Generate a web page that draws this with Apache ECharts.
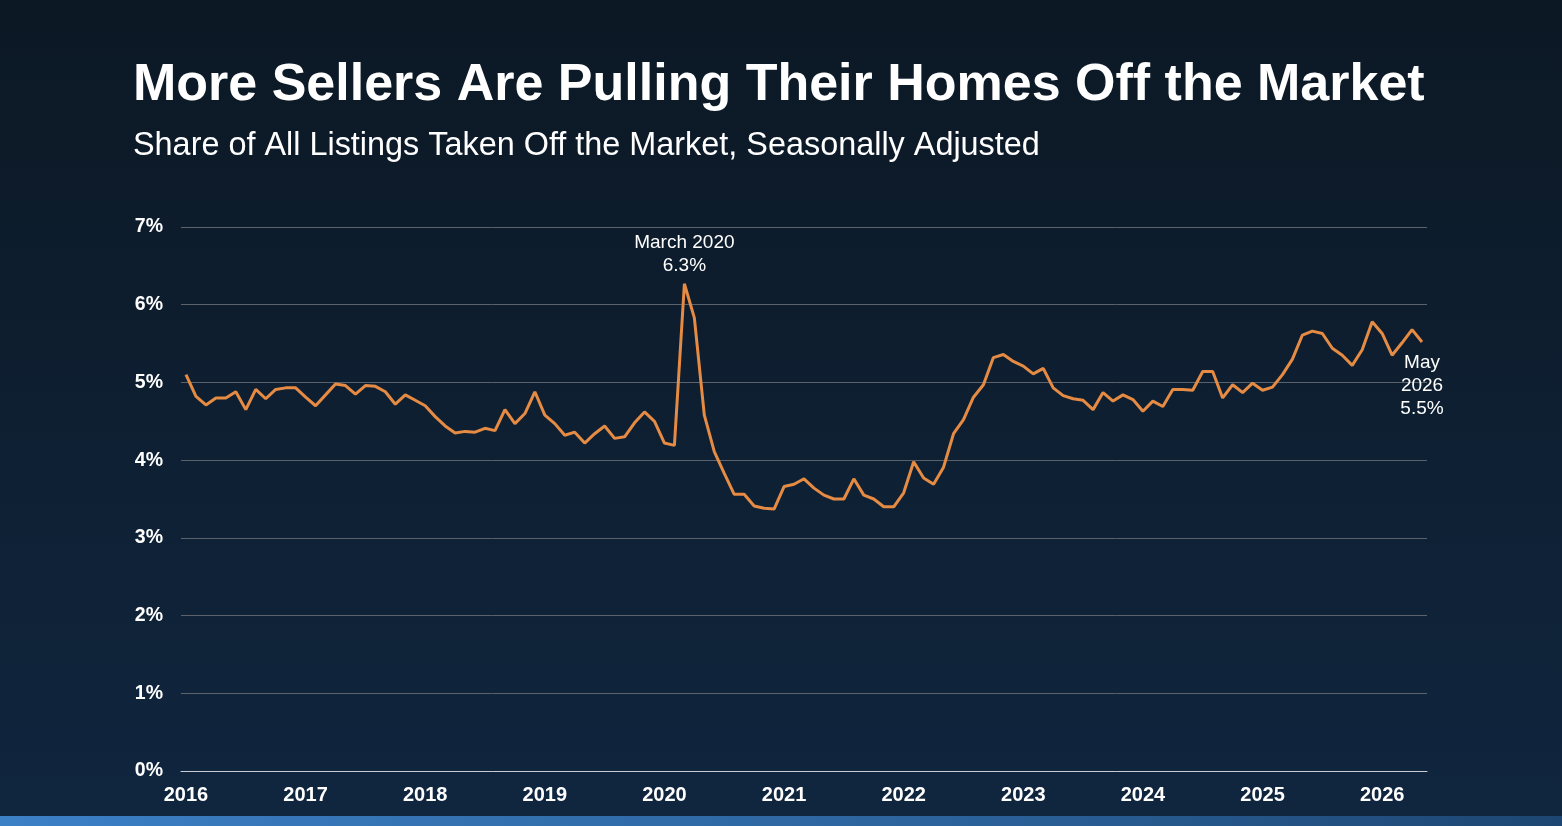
<!DOCTYPE html>
<html>
<head>
<meta charset="utf-8">
<script src="https://cdn.jsdelivr.net/npm/echarts@6/dist/echarts.min.js"></script>
<style>
  html, body { margin: 0; padding: 0; }
  #chart { width: 1562px; height: 826px; }
</style>
</head>
<body>
<div id="chart"></div>
<script>
var years = ['2016', '2017', '2018', '2019', '2020', '2021', '2022', '2023', '2024', '2025', '2026'];

// share of listings delisted, % (seasonally adjusted), one value per month
var v2016 = [5.10, 4.82, 4.71, 4.80, 4.80, 4.88, 4.65, 4.91, 4.79, 4.91, 4.93, 4.93];
var v2017 = [4.81, 4.70, 4.84, 4.98, 4.96, 4.85, 4.96, 4.95, 4.88, 4.72, 4.84, 4.77];
var v2018 = [4.70, 4.56, 4.44, 4.35, 4.37, 4.36, 4.41, 4.38, 4.65, 4.47, 4.60, 4.88];
var v2019 = [4.58, 4.47, 4.32, 4.36, 4.22, 4.34, 4.44, 4.28, 4.30, 4.48, 4.62, 4.50];
var v2020 = [4.22, 4.19, 6.27, 5.83, 4.58, 4.11, 3.83, 3.56, 3.56, 3.41, 3.38, 3.37];
var v2021 = [3.66, 3.69, 3.76, 3.64, 3.55, 3.50, 3.50, 3.76, 3.55, 3.50, 3.40, 3.40];
var v2022 = [3.58, 3.98, 3.77, 3.69, 3.91, 4.34, 4.52, 4.81, 4.97, 5.32, 5.36, 5.27];
var v2023 = [5.21, 5.11, 5.18, 4.93, 4.83, 4.79, 4.77, 4.65, 4.87, 4.76, 4.84, 4.78];
var v2024 = [4.63, 4.76, 4.69, 4.91, 4.91, 4.90, 5.14, 5.14, 4.80, 4.97, 4.87, 4.99];
var v2025 = [4.90, 4.94, 5.10, 5.30, 5.61, 5.66, 5.63, 5.44, 5.35, 5.22, 5.42, 5.78];
var v2026 = [5.63, 5.35, 5.51, 5.68, 5.52];

var yTicks = [0, 1, 2, 3, 4, 5, 6, 7];

var values = [].concat(v2016, v2017, v2018, v2019, v2020, v2021, v2022, v2023, v2024, v2025, v2026);
var months = values.map(function (_, i) {
  var y = years[Math.floor(i / 12)];
  var m = (i % 12) + 1;
  return y + '-' + (m < 10 ? '0' + m : m);
});

var notes = {
  '2020-03': { text: 'March 2020\n6.3%', position: 'top', distance: 6 },
  '2026-05': { text: 'May\n2026\n5.5%', position: 'bottom', distance: 9 }
};

var font = 'Liberation Sans, Arial, Helvetica, sans-serif';

var seriesData = values.map(function (v, i) {
  var n = notes[months[i]];
  if (!n) return v;
  return {
    value: v,
    label: {
      show: true,
      position: n.position,
      distance: n.distance,
      formatter: n.text,
      color: '#ffffff',
      fontSize: 19,
      lineHeight: 23,
      align: 'center',
      fontFamily: font
    }
  };
});

var myChart = echarts.init(document.getElementById('chart'));
var option = {
  backgroundColor: {
    type: 'linear', x: 0, y: 0, x2: 0, y2: 1,
    colorStops: [
      { offset: 0, color: '#0c1824' },
      { offset: 1, color: '#10263f' }
    ]
  },
  title: [
    {
      text: 'More Sellers Are Pulling Their Homes Off the Market',
      left: 128,
      top: 55,
      textStyle: { color: '#ffffff', fontSize: 52, fontWeight: 'bold', fontFamily: font }
    },
    {
      text: 'Share of All Listings Taken Off the Market, Seasonally Adjusted',
      left: 128,
      top: 125,
      textStyle: { color: '#ffffff', fontSize: 32.4, fontWeight: 'normal', fontFamily: font }
    }
  ],
  graphic: [
    {
      type: 'rect',
      left: 0,
      bottom: 0,
      shape: { width: 1562, height: 10 },
      style: {
        fill: {
          type: 'linear', x: 0, y: 0, x2: 1, y2: 0,
          colorStops: [
            { offset: 0, color: '#3c80c6' },
            { offset: 0.6, color: '#2c639c' },
            { offset: 1, color: '#1d4672' }
          ]
        }
      },
      silent: true
    }
  ],
  grid: { left: 181, right: 135, top: 227, bottom: 55 },
  xAxis: {
    type: 'category',
    data: months,
    boundaryGap: true,
    axisTick: { show: false },
    axisLine: { show: true, lineStyle: { color: '#c9cdd1', width: 1 } },
    axisLabel: {
      interval: function (idx) { return idx % 12 === 0; },
      formatter: function (v) { return v.slice(0, 4); },
      color: '#ffffff',
      fontSize: 20,
      fontWeight: 'bold',
      fontFamily: font,
      margin: 14
    },
    splitLine: { show: false }
  },
  yAxis: {
    type: 'value',
    min: yTicks[0],
    max: yTicks[yTicks.length - 1],
    interval: 1,
    axisLine: { show: false },
    axisTick: { show: false },
    axisLabel: {
      formatter: '{value}%',
      color: '#ffffff',
      fontSize: 19.5,
      fontWeight: 'bold',
      fontFamily: font,
      margin: 18
    },
    splitLine: { lineStyle: { color: '#5b6269', width: 1 } }
  },
  series: [
    {
      type: 'line',
      data: seriesData,
      symbol: 'circle',
      symbolSize: 0,
      showSymbol: true,
      smooth: false,
      label: { show: false },
      lineStyle: { color: '#e58b43', width: 3 },
      itemStyle: { color: '#e58b43' },
      z: 3
    }
  ],
  animation: false
};

option && myChart.setOption(option);
window.onresize = function () {
  myChart.resize();
};
</script>
</body>
</html>
